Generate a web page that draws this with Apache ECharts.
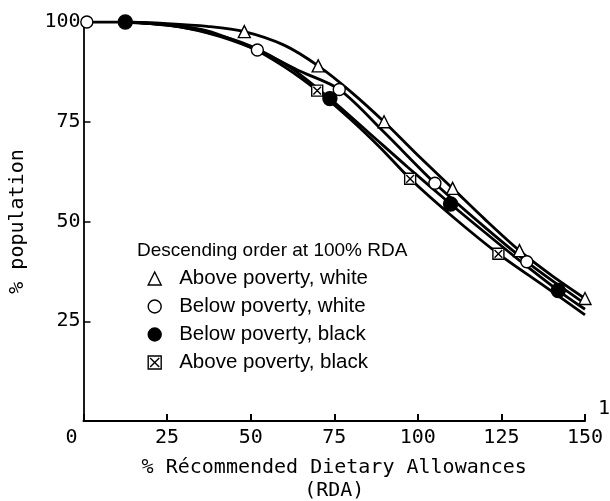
<!DOCTYPE html>
<html>
<head>
<meta charset="utf-8">
<script src="https://cdn.jsdelivr.net/npm/echarts@6/dist/echarts.min.js"></script>
<style>html,body{margin:0;padding:0;background:#fff}#c{width:610px;height:501px}</style>
</head>
<body>
<div id="c"></div>
<script>
// ---- data ----
var seriesNames = ['Above poverty, white', 'Below poverty, white', 'Below poverty, black', 'Above poverty, black'];
var legendTitle = 'Descending order at 100% RDA';
var xTicks = [0, 25, 50, 75, 100, 125, 150];
var yTicks = [25, 50, 75, 100];

// smooth curves
var apwCurveX = [12.5, 25, 37, 48.1, 60, 70.2, 80, 89.9, 100, 110.4, 120, 130.4, 140, 150];
var apwCurveY = [100, 99.6, 98.9, 97.6, 94.2, 89.0, 82.5, 75.0, 66.6, 58.3, 50.6, 42.7, 36.5, 30.7];
var bpwCurveX = [1, 12.5, 25, 37, 52, 65, 76.5, 90, 105.1, 120, 132.6, 142, 150];
var bpwCurveY = [100, 100, 99.3, 97.8, 93.0, 87.6, 83.1, 72.3, 59.6, 48.6, 39.9, 34.1, 29.4];
var bpbCurveX = [12.5, 25, 37, 50, 62, 73.7, 85, 97, 109.8, 120, 130, 142, 150];
var bpbCurveY = [100, 99.2, 97.4, 94.0, 88.5, 80.8, 72.5, 63.6, 54.4, 47.3, 40.5, 32.7, 28.0];
var apbCurveX = [12.5, 25, 37, 50, 60, 69.9, 80, 89, 97.7, 110, 124.1, 137, 150];
var apbCurveY = [100, 99.2, 97.3, 93.6, 88.8, 82.8, 75.5, 68.3, 60.7, 51.5, 41.9, 34.3, 26.6];

// plotted markers
var apwMarkX = [48.1, 70.2, 89.9, 110.4, 130.4, 150];
var apwMarkY = [97.6, 89.0, 75.0, 58.3, 42.7, 30.7];
var bpwMarkX = [1, 52, 76.5, 105.1, 132.6];
var bpwMarkY = [100, 93.0, 83.1, 59.6, 39.9];
var bpbMarkX = [12.5, 73.7, 109.8, 142];
var bpbMarkY = [100, 80.8, 54.4, 32.7];
var apbMarkX = [69.9, 97.7, 124.1];
var apbMarkY = [82.8, 60.7, 41.9];

function pairs(xs, ys) { return xs.map(function (x, i) { return [x, ys[i]]; }); }

var MONO = 'DejaVu Sans Mono';
var SANS = 'Liberation Sans';
var boxX = 'path://M0,0H10V10H0Z M1.5,1.5L8.5,8.5 M8.5,1.5L1.5,8.5';
var symbols = ['triangle', 'circle', 'circle', boxX];
var fills = ['#fff', '#fff', '#000', '#fff'];
var sizes = [12, 12, 14, 11];
var curves = [pairs(apwCurveX, apwCurveY), pairs(bpwCurveX, bpwCurveY), pairs(bpbCurveX, bpbCurveY), pairs(apbCurveX, apbCurveY)];
var marks = [pairs(apwMarkX, apwMarkY), pairs(bpwMarkX, bpwMarkY), pairs(bpbMarkX, bpbMarkY), pairs(apbMarkX, apbMarkY)];

var series = [];
seriesNames.forEach(function (n, i) {
  series.push({
    name: n, type: 'line', data: curves[i], smooth: 0.3, showSymbol: false,
    lineStyle: { color: '#000', width: 2.8 }, itemStyle: { color: '#000' }, z: 2,
    silent: true, animation: false
  });
});
seriesNames.forEach(function (n, i) {
  series.push({
    name: n, type: 'scatter', data: marks[i], symbol: symbols[i], symbolSize: sizes[i],
    itemStyle: { color: fills[i], borderColor: '#000', borderWidth: 1.4, opacity: 1 }, z: 5,
    animation: false
  });
});

var chart = echarts.init(document.getElementById('c'), null, { renderer: 'canvas' });
chart.setOption({
  backgroundColor: '#fff',
  animation: false,
  title: {
    text: legendTitle, left: 137, top: 241, padding: 0,
    textStyle: { fontFamily: SANS, fontSize: 19, fontWeight: 'normal', color: '#000' }
  },
  legend: {
    orient: 'vertical', left: 147.5, top: 268, padding: 0,
    itemWidth: 13, itemHeight: 13, itemGap: 7, selectedMode: false,
    textStyle: { fontFamily: SANS, fontSize: 20.5, color: '#000', padding: [0, 0, 0, 13] },
    data: seriesNames.map(function (n, i) {
      return { name: n, icon: symbols[i], itemStyle: { color: fills[i], borderColor: '#000', borderWidth: 1.4 } };
    })
  },
  grid: { left: 83.5, right: 25, top: 22, bottom: 80, containLabel: false, outerBoundsMode: 'none' },
  xAxis: {
    type: 'value', min: xTicks[0], max: xTicks[xTicks.length - 1], interval: 25,
    name: '% Récommended Dietary Allowances\n(RDA)', nameLocation: 'middle', nameGap: 35,
    nameTextStyle: { fontFamily: MONO, fontSize: 20, color: '#000', lineHeight: 23 },
    axisLine: { lineStyle: { color: '#000', width: 2 } },
    axisTick: { inside: true, length: 7, lineStyle: { color: '#000', width: 2 } },
    splitLine: { show: false },
    axisLabel: {
      margin: 7, color: '#000', fontFamily: MONO, fontSize: 20,
      formatter: function (v) { return v === 0 ? '{z|0}' : String(v); },
      rich: { z: { fontFamily: MONO, fontSize: 20, color: '#000', padding: [0, 24, 0, 0] } }
    }
  },
  yAxis: {
    type: 'value', min: 0, max: 100, interval: 25,
    name: '% population', nameLocation: 'middle', nameGap: 56,
    nameTextStyle: { fontFamily: MONO, fontSize: 20, color: '#000' },
    axisLine: { lineStyle: { color: '#000', width: 1.8 } },
    axisTick: { inside: true, length: 7, lineStyle: { color: '#000', width: 1.5 } },
    splitLine: { show: false },
    axisLabel: { margin: 3, color: '#000', fontFamily: MONO, fontSize: 20, showMinLabel: false }
  },
  graphic: [{
    type: 'text', left: 598, top: 399,
    style: { text: '1', fontFamily: MONO, fontSize: 20, fill: '#000' }
  }],
  series: series
});
</script>
</body>
</html>
